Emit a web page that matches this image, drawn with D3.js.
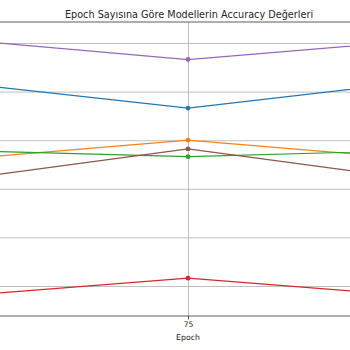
<!DOCTYPE html>
<html>
<head>
<meta charset="utf-8">
<script src="https://cdn.jsdelivr.net/npm/d3@7/dist/d3.min.js"></script>
<style>
  html, body { margin: 0; padding: 0; background: #fff; }
  svg { display: block; }
  text { font-family: "DejaVu Sans", sans-serif; fill: #262626; }
</style>
</head>
<body>
<svg id="chart" width="350" height="350"></svg>
<script>
// ---- data ----
const epochs = [50, 75, 100];
const modelNames = ["Model 1", "Model 2", "Model 3", "Model 4", "Model 5", "Model 6"];
const model1 = [0.857, 0.833, 0.858];   // blue
const model2 = [0.782, 0.800, 0.782];   // orange
const model3 = [0.789, 0.783, 0.789];   // green
const model4 = [0.641, 0.658, 0.641];   // red
const model5 = [0.902, 0.883, 0.901];   // purple
const model6 = [0.762, 0.791, 0.762];   // brown
const yTicks = [0.65, 0.70, 0.75, 0.80, 0.85, 0.90];
const colors = ["#1f77b4", "#ff7f0e", "#2ca02c", "#d62728", "#9467bd", "#8c564b"];
const seriesValues = [model1, model2, model3, model4, model5, model6];

// ---- layout ----
const W = 350;
const svg = d3.select("#chart");
const frame = { left: -60, right: 420, top: 22, bottom: 316 };

const x = d3.scaleLinear().domain([50, 100]).range([188 - 211, 188 + 211]);
const y = d3.scaleLinear().domain([0.65, 0.90]).range([286, 43]);

svg.append("defs").append("clipPath").attr("id", "clip")
  .append("rect")
  .attr("x", frame.left).attr("y", frame.top)
  .attr("width", frame.right - frame.left).attr("height", frame.bottom - frame.top);

// grid
const grid = svg.append("g").attr("clip-path", "url(#clip)");
grid.append("g")
  .attr("transform", `translate(0,${frame.bottom})`)
  .call(d3.axisBottom(x).tickValues(epochs).tickSize(-(frame.bottom - frame.top)).tickFormat(""))
  .call(g => g.select(".domain").remove())
  .call(g => g.selectAll("line").attr("stroke", "#b0b0b0").attr("stroke-width", 0.8));
grid.append("g")
  .attr("transform", `translate(${frame.left},0)`)
  .call(d3.axisLeft(y).tickValues(yTicks).tickSize(-(frame.right - frame.left)).tickFormat(""))
  .call(g => g.select(".domain").remove())
  .call(g => g.selectAll("line").attr("stroke", "#b0b0b0").attr("stroke-width", 0.8));

// lines
const plot = svg.append("g").attr("clip-path", "url(#clip)");
const line = d3.line().x((d, i) => x(epochs[i])).y(d => y(d));
seriesValues.forEach((vals, k) => {
  const g = plot.append("g").attr("class", "series").attr("data-name", modelNames[k]);
  g.append("path").datum(vals)
    .attr("d", line).attr("fill", "none")
    .attr("stroke", colors[k]).attr("stroke-width", 1.2);
  g.selectAll("circle").data(vals).join("circle")
    .attr("cx", (d, i) => x(epochs[i])).attr("cy", d => y(d))
    .attr("r", 2.4).attr("fill", colors[k]);
});

// top spine
svg.append("line").attr("x1", 0).attr("x2", W).attr("y1", frame.top).attr("y2", frame.top)
  .attr("stroke", "#333").attr("stroke-width", 0.8);

// x axis (only ticks that fall inside the visible window)
const visibleEpochs = epochs.filter(e => x(e) >= 0 && x(e) <= W);
const xAxis = svg.append("g")
  .attr("transform", `translate(0,${frame.bottom})`)
  .call(d3.axisBottom(x).tickValues(visibleEpochs).tickSize(3.5).tickPadding(2).tickFormat(d3.format("d")));
xAxis.select(".domain").remove();
xAxis.selectAll("line").attr("stroke", "#333").attr("stroke-width", 0.8);
xAxis.selectAll("text").attr("font-size", "7.6px").attr("font-family", "DejaVu Sans").attr("fill", "#262626");
svg.append("line").attr("x1", 0).attr("x2", W).attr("y1", frame.bottom).attr("y2", frame.bottom)
  .attr("stroke", "#333").attr("stroke-width", 0.8);

svg.append("text").attr("x", 188).attr("y", 339.5).attr("text-anchor", "middle")
  .attr("font-size", "7.8px").text("Epoch");

svg.append("text").attr("x", 189).attr("y", 18).attr("text-anchor", "middle")
  .attr("font-size", "9.7px").text("Epoch Sayısına Göre Modellerin Accuracy Değerleri");
</script>
</body>
</html>
